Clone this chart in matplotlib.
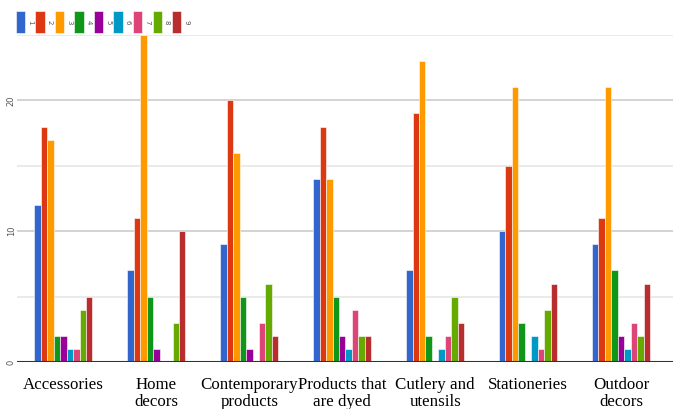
import matplotlib.pyplot as plt
import numpy as np
from matplotlib.patches import Patch

categories = ["Accessories", "Home\ndecors", "Contemporary\nproducts",
              "Products that\nare dyed", "Cutlery and\nutensils",
              "Stationeries", "Outdoor\ndecors"]
series_names = ["1", "2", "3", "4", "5", "6", "7", "8", "9"]

# one list per series, one value per category
s1 = [12, 7, 9, 14, 7, 10, 9]
s2 = [18, 11, 20, 18, 19, 15, 11]
s3 = [17, 25, 16, 14, 23, 21, 21]
s4 = [2, 5, 5, 5, 2, 3, 7]
s5 = [2, 1, 1, 2, 0, 0, 2]
s6 = [1, 0, 0, 1, 1, 2, 1]
s7 = [1, 0, 3, 4, 2, 1, 3]
s8 = [4, 3, 6, 2, 5, 4, 2]
s9 = [5, 10, 2, 2, 3, 6, 6]
series = [s1, s2, s3, s4, s5, s6, s7, s8, s9]

colors = ["#3366cc", "#dc3912", "#ff9900", "#109618", "#990099",
          "#0099c6", "#dd4477", "#66aa00", "#b82e2e"]

fig = plt.figure(figsize=(6.73, 4.09), dpi=100)
ax = fig.add_axes([17 / 673, 47 / 409, 656 / 673, 327 / 409])

x = np.arange(len(categories))
n = len(series)
group_w = 0.625
bar_w = group_w / n

for i, (vals, c) in enumerate(zip(series, colors)):
    offs = -group_w / 2 + bar_w * (i + 0.5)
    ax.bar(x + offs, vals, width=bar_w, color=c, edgecolor="white",
           linewidth=0.4, zorder=3)

ax.set_xlim(-0.5, 6.56)
ax.set_ylim(0, 25)

# gridlines: darker on labelled values, lighter in between
for v in [5, 15, 25]:
    ax.axhline(v, color="#e6e6e6", lw=1.2, zorder=1)
for v in [10, 20]:
    ax.axhline(v, color="#cccccc", lw=1.2, zorder=1)
ax.axhline(0, color="#333333", lw=1.5, zorder=4)

ax.set_yticks([0, 10, 20])
ax.set_yticklabels(["0", "10", "20"], rotation=90, va="center",
                   fontsize=6, color="#555555")
ax.tick_params(axis="y", length=0, pad=1)

ax.set_xticks(x)
ax.set_xticklabels(categories, fontfamily="Liberation Serif", fontsize=12.2,
                   linespacing=1.1)
ax.tick_params(axis="x", length=0, pad=11)

for s in ax.spines.values():
    s.set_visible(False)

handles = [Patch(facecolor=c, edgecolor="white", lw=0.4) for c in colors]
leg = fig.legend(handles, series_names, loc="upper left",
                 bbox_to_anchor=(13 / 673, 1 - 8 / 409), ncol=9, frameon=False,
                 fontsize=5, handlelength=1.35, handleheight=4.6,
                 handletextpad=0.25, columnspacing=0.35, borderaxespad=0)
for t in leg.get_texts():
    t.set_rotation(270)
    t.set_color("#555555")

fig.savefig("out.png", dpi=100)
